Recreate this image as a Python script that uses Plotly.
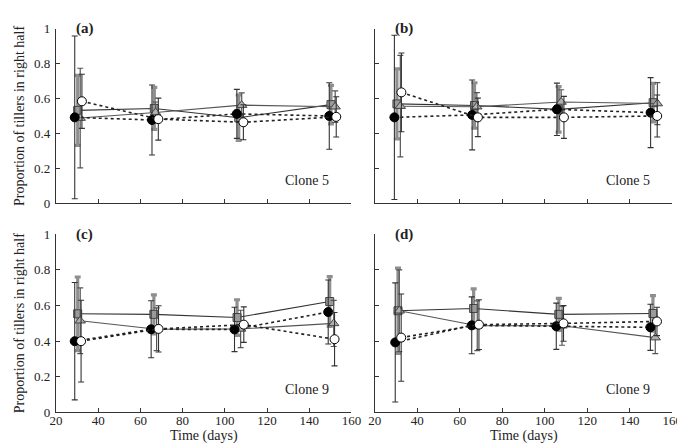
import plotly.graph_objects as go

# ---------------- data ----------------
panel_labels = ["(a)", "(b)", "(c)", "(d)"]
clone_labels = ["Clone 5", "Clone 5", "Clone 9", "Clone 9"]
y_tick_vals = [0, 0.2, 0.4, 0.6, 0.8, 1]
y_tick_text = ["0", "0.2", "0.4", "0.6", "0.8", "1"]
x_tick_vals = [20, 40, 60, 80, 100, 120, 140, 160]
x_tick_text = ["20", "40", "60", "80", "100", "120", "140", "160"]

# filled black circles
black_days = [[28.9, 65.5, 105.7, 149.5], [29.2, 65.8, 105.7, 149.8],
              [28.9, 65.1, 104.6, 149.0], [29.6, 65.6, 105.4, 149.7]]
black_vals = [[0.492, 0.477, 0.512, 0.500], [0.492, 0.506, 0.538, 0.519],
              [0.399, 0.466, 0.465, 0.563], [0.392, 0.488, 0.483, 0.477]]
black_err = [[0.465, 0.20, 0.14, 0.19], [0.47, 0.20, 0.15, 0.20],
             [0.33, 0.16, 0.125, 0.18], [0.335, 0.16, 0.13, 0.13]]

# open circles
open_days = [[32.3, 68.5, 108.8, 152.8], [32.5, 68.5, 109.0, 152.9],
             [31.9, 68.6, 109.0, 152.0], [32.4, 69.0, 108.8, 152.8]]
open_vals = [[0.584, 0.482, 0.464, 0.495], [0.635, 0.492, 0.492, 0.500],
             [0.399, 0.468, 0.492, 0.410], [0.419, 0.492, 0.499, 0.510]]
open_err = [[0.155, 0.12, 0.10, 0.115], [0.225, 0.11, 0.12, 0.12],
            [0.23, 0.13, 0.10, 0.15], [0.245, 0.14, 0.10, 0.08]]

# grey squares
square_days = [[30.3, 66.6, 106.6, 150.3], [30.4, 66.9, 106.5, 151.0],
               [30.3, 66.4, 105.8, 149.7], [30.9, 66.5, 106.6, 150.9]]
square_vals = [[0.532, 0.543, 0.490, 0.565], [0.569, 0.560, 0.538, 0.576],
               [0.553, 0.550, 0.532, 0.622], [0.570, 0.583, 0.550, 0.555]]
square_err = [[0.20, 0.12, 0.13, 0.11], [0.20, 0.13, 0.13, 0.11],
              [0.207, 0.11, 0.10, 0.14], [0.24, 0.11, 0.09, 0.10]]

# grey triangles
tri_days = [[31.5, 67.2, 108.0, 152.3], [32.0, 68.0, 107.7, 153.0],
            [31.5, 67.7, 107.5, 151.6], [31.5, 68.2, 108.1, 152.0]]
tri_vals = [[0.488, 0.520, 0.562, 0.553], [0.556, 0.553, 0.580, 0.571],
            [0.514, 0.466, 0.468, 0.499], [0.570, 0.486, 0.486, 0.419]]
tri_err = [[0.285, 0.06, 0.07, 0.09], [0.29, 0.08, 0.07, 0.12],
           [0.185, 0.12, 0.105, 0.13], [0.23, 0.14, 0.11, 0.09]]

# ---------------- layout geometry ----------------
W, H = 685, 444
x_domains = [[42 / W, 345 / W], [369 / W, 674 / W]]
y_domains = [[1 - 195 / H, 1 - 14 / H], [1 - 411 / H, 1 - 227 / H]]
FONT = "Times New Roman, Liberation Serif, DejaVu Serif, serif"
AX = "#333333"
TXT = "#222222"

fig = go.Figure()

series = [
    # (days, vals, err, marker, line, errcolor, errthick)
    (square_days, square_vals, square_err,
     dict(symbol="square", size=8, color="#9a9a9a", line=dict(color="#444", width=1)),
     dict(color="#333", width=1.1), "#8f8f8f", 3.2),
    (tri_days, tri_vals, tri_err,
     dict(symbol="triangle-up", size=9, color="#b0b0b0", line=dict(color="#444", width=1)),
     dict(color="#555", width=1.1), "#555", 1.2),
    (black_days, black_vals, black_err,
     dict(symbol="circle", size=9, color="black", line=dict(color="black", width=1)),
     dict(color="#222", width=1.6, dash="dot"), "#333", 1.1),
    (open_days, open_vals, open_err,
     dict(symbol="circle", size=9, color="white", line=dict(color="black", width=1)),
     dict(color="#222", width=1.6, dash="dot"), "#333", 1.1),
]

for p in range(4):
    row, col = divmod(p, 2)
    idx = "" if p == 0 else str(p + 1)
    xa, ya = "x" + idx, "y" + idx
    for days, vals, err, mk, ln, ec, et in series:
        fig.add_trace(go.Scatter(
            x=days[p], y=vals[p], mode="lines+markers", xaxis=xa, yaxis=ya,
            marker=mk, line=ln, showlegend=False,
            error_y=dict(type="data", array=err[p], visible=True, color=ec,
                         thickness=et, width=3)))
    common = dict(showline=True, linecolor=AX, linewidth=1.2, ticks="inside",
                  ticklen=4, tickcolor=AX, showgrid=False, zeroline=False,
                  tickfont=dict(family=FONT, size=13, color=TXT))
    fig.layout["xaxis" + idx] = dict(
        domain=x_domains[col], range=[20, 160], anchor=ya,
        tickvals=x_tick_vals, ticktext=x_tick_text, ticklabelstandoff=-4,
        showticklabels=(row == 1), **common)
    fig.layout["yaxis" + idx] = dict(
        domain=y_domains[row], range=[0, 1], anchor=xa,
        tickvals=y_tick_vals, ticktext=y_tick_text, ticklabelstandoff=2,
        showticklabels=(col == 0),
        title=dict(text="Proportion of tillers in right half" if col == 0 else "",
                   font=dict(family=FONT, size=14, color=TXT), standoff=6),
        **common)
    fig.add_annotation(x=28.5, y=1.0, xref=xa, yref=ya, text="<b>" + panel_labels[p] + "</b>",
                       showarrow=False, xanchor="left", yanchor="middle",
                       font=dict(family=FONT, size=15, color=TXT))
    fig.add_annotation(x=139, y=0.13, xref=xa, yref=ya, text=clone_labels[p],
                       showarrow=False, xanchor="center", yanchor="middle",
                       font=dict(family=FONT, size=14, color=TXT))
    if row == 1:
        fig.add_annotation(x=sum(x_domains[col]) / 2, y=1 - 436 / H, xref="paper", yref="paper",
                           text="Time (days)", showarrow=False, xanchor="center",
                           yanchor="middle", font=dict(family=FONT, size=14, color=TXT))

fig.update_layout(width=W, height=H, margin=dict(l=0, r=0, t=0, b=0),
                  font=dict(family=FONT),
                  paper_bgcolor="white", plot_bgcolor="white")
fig.write_html("out.html")
